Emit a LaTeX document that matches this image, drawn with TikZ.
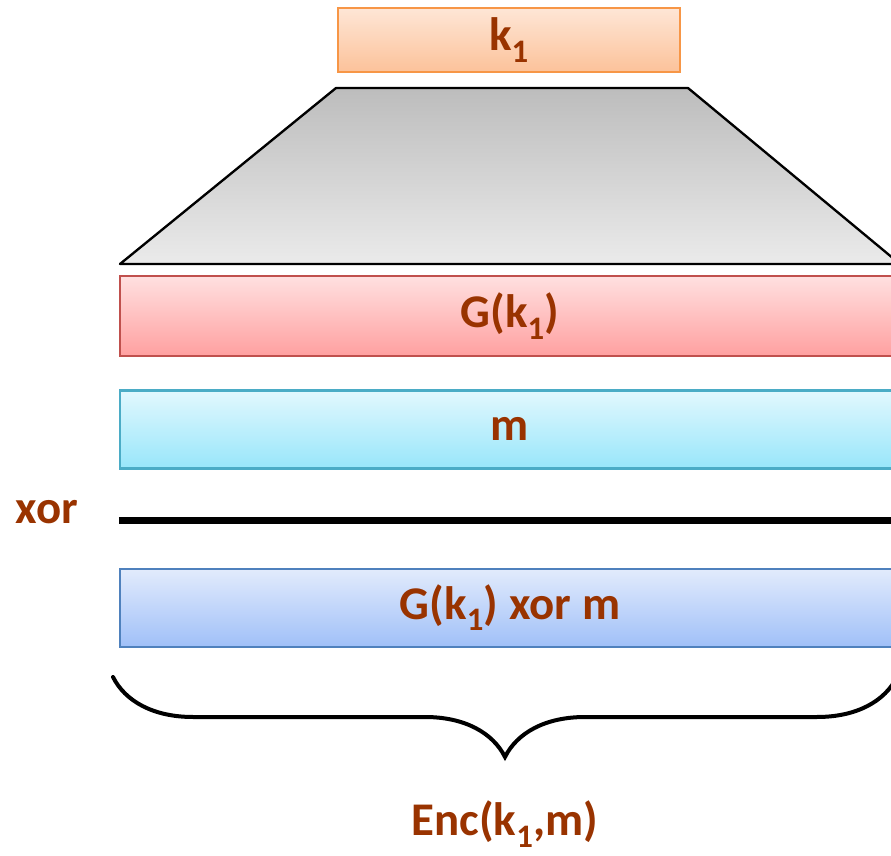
\documentclass[tikz,border=0pt]{standalone}
\usepackage{fontspec}
\setmainfont{Carlito}
\usetikzlibrary{
  positioning,
  decorations.pathreplacing
}
\definecolor{encText}{HTML}{993300}
\definecolor{encKey}{HTML}{F79646}
\definecolor{encKeyTop}{HTML}{FEE6D6}
\definecolor{encKeyBot}{HTML}{FCC29A}
\definecolor{encPrg}{HTML}{C0504D}
\definecolor{encPrgTop}{HTML}{FFE0E0}
\definecolor{encPrgBot}{HTML}{FFA0A0}
\definecolor{encMsg}{HTML}{4BACC6}
\definecolor{encMsgTop}{HTML}{E2F8FE}
\definecolor{encMsgBot}{HTML}{98E6FA}
\definecolor{encCt}{HTML}{4F81BD}
\definecolor{encCtTop}{HTML}{E2EBFC}
\definecolor{encCtBot}{HTML}{A0C0F8}
\tikzset{
  encfont/.style={font=\bfseries\fontsize{40}{48}\selectfont, text=encText},
  encnode/.style={
    draw, line width=2pt, minimum height=23.4mm, minimum width=234mm,
    encfont, align=center
  },
  keybox/.style={encnode, draw=encKey, top color=encKeyTop, bottom color=encKeyBot,
    minimum width=102.6mm, minimum height=19.2mm},
  prgbox/.style={encnode, draw=encPrg, top color=encPrgTop, bottom color=encPrgBot, minimum height=24mm},
  msgbox/.style={encnode, draw=encMsg, top color=encMsgTop, bottom color=encMsgBot},
  ctbox/.style={encnode, draw=encCt, top color=encCtTop, bottom color=encCtBot},
  expander/.style={draw, line width=2pt, line join=round, top color=black!26, bottom color=black!8},
  xorline/.style={line width=2.1mm},
  brace/.style={decorate, decoration={brace, mirror, amplitude=24mm}, line width=1.2mm, line cap=round}
}

\begin{document}
\begin{tikzpicture}[x=0.3mm, y=-0.3mm]
  \useasboundingbox (0,0) rectangle (891,856);

  \node[keybox] (key) at (509,40) {k\textsubscript{1}};

  % the generator stretching the key
  \draw[expander] (336,88) -- (688,88) -- (900,264) -- (120,264) -- cycle;

  \node[prgbox] (prg) at (510,316) {G(k\textsubscript{1})};
  \node[msgbox, below=9.6mm of prg] (msg) {m};
  \coordinate[below=15.3mm of msg.south west] (xl);
  \coordinate[below=15.3mm of msg.south east] (xr);
  \draw[xorline] (xl) -- (xr);
  \node[encfont] (xor) at (47,512) {xor};
  \node[ctbox, below=29.4mm of msg] (ct) {G(k\textsubscript{1}) xor m};

  \coordinate (bl) at (113,677);
  \coordinate (br) at (897,677);
  \draw[brace] (bl) -- (br);
  \node[encfont, inner sep=1pt] (enc) at (505,824) {Enc(k\textsubscript{1},m)};
\end{tikzpicture}
\end{document}
